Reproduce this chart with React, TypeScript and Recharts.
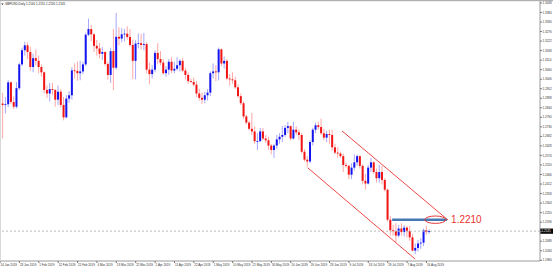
import React from 'react';
import { ComposedChart, Bar, XAxis, YAxis, ReferenceLine, ReferenceDot } from 'recharts';

// GBPUSD daily candles, 14 Jan 2019 - 19 Aug 2019
const dates = [
  '01-14','01-15','01-16','01-17','01-18','01-21','01-22','01-23','01-24','01-25','01-28','01-29','01-30','01-31',
  '02-01','02-04','02-05','02-06','02-07','02-08','02-11','02-12','02-13','02-14','02-15','02-18','02-19','02-20','02-21','02-22','02-25','02-26','02-27','02-28',
  '03-01','03-04','03-05','03-06','03-07','03-08','03-11','03-12','03-13','03-14','03-15','03-18','03-19','03-20','03-21','03-22','03-25','03-26','03-27','03-28','03-29',
  '04-01','04-02','04-03','04-04','04-05','04-08','04-09','04-10','04-11','04-12','04-15','04-16','04-17','04-18','04-19','04-22','04-23','04-24','04-25','04-26','04-29','04-30',
  '05-01','05-02','05-03','05-06','05-07','05-08','05-09','05-10','05-13','05-14','05-15','05-16','05-17','05-20','05-21','05-22','05-23','05-24','05-27','05-28','05-29','05-30','05-31',
  '06-03','06-04','06-05','06-06','06-07','06-10','06-11','06-12','06-13','06-14','06-17','06-18','06-19','06-20','06-21','06-24','06-25','06-26','06-27','06-28',
  '07-01','07-02','07-03','07-04','07-05','07-08','07-09','07-10','07-11','07-12','07-15','07-16','07-17','07-18','07-19','07-22','07-23','07-24','07-25','07-26','07-29','07-30','07-31',
  '08-01','08-02','08-05','08-06','08-07','08-08','08-09','08-12','08-13','08-14','08-15','08-16','08-19',
];

const opens = [
  1.2844,1.2868,1.2860,1.2864,1.2988,1.2877,1.2850,1.2955,1.3090,1.3170,1.3198,1.3160,1.3075,1.3125,
  1.3110,1.3075,1.3045,1.2945,1.2925,1.2950,1.2945,1.2890,1.2935,1.2860,1.2790,1.2896,1.2915,1.3056,1.3053,1.3040,1.3050,1.3090,1.3258,1.3290,
  1.3260,1.3195,1.3180,1.3150,1.3160,1.3092,1.3030,1.3165,1.3071,1.3246,1.3236,1.3260,1.3264,1.3245,1.3200,1.3110,1.3208,1.3210,1.3200,1.3205,1.3060,
  1.3035,1.3060,1.3155,1.3120,1.3100,1.3040,1.3060,1.3105,1.3055,1.3065,1.3085,1.3110,1.3055,1.3030,1.2995,1.2990,1.2975,1.2925,1.2900,1.2890,1.2915,1.2930,
  1.3040,1.3050,1.3045,1.3175,1.3095,1.3110,1.3010,1.3005,1.3000,1.2960,1.2910,1.2870,1.2795,1.2760,1.2725,1.2710,1.2655,1.2655,1.2710,1.2670,1.2660,1.2630,1.2605,
  1.2630,1.2665,1.2680,1.2690,1.2730,1.2740,1.2670,1.2720,1.2705,1.2690,1.2595,1.2550,1.2540,1.2650,1.2720,1.2745,1.2735,1.2700,1.2675,1.2695,
  1.2690,1.2620,1.2590,1.2585,1.2570,1.2520,1.2515,1.2465,1.2505,1.2535,1.2570,1.2515,1.2430,1.2415,1.2505,1.2535,1.2480,1.2445,1.2480,1.2435,1.2380,1.2210,1.2150,
  1.2145,1.2120,1.2160,1.2140,1.2165,1.2145,1.2110,1.2035,1.2050,1.2075,1.2080,1.2150,1.2140,
];

const highs = [
  1.2894,1.2929,1.2905,1.3000,1.2993,1.2908,1.2990,1.3100,1.3185,1.3218,1.3215,1.3190,1.3150,1.3175,
  1.3140,1.3090,1.3050,1.2970,1.2985,1.2985,1.2950,1.2970,1.2950,1.2905,1.2915,1.2938,1.3074,1.3096,1.3105,1.3110,1.3105,1.3269,1.3350,1.3313,
  1.3265,1.3228,1.3212,1.3188,1.3164,1.3105,1.3184,1.3290,1.3381,1.3300,1.3295,1.3290,1.3306,1.3290,1.3230,1.3227,1.3265,1.3263,1.3268,1.3215,1.3100,
  1.3085,1.3170,1.3210,1.3165,1.3120,1.3080,1.3120,1.3130,1.3105,1.3130,1.3120,1.3125,1.3070,1.3045,1.3010,1.3015,1.2995,1.2950,1.2930,1.2935,1.2950,1.3050,
  1.3095,1.3085,1.3185,1.3180,1.3135,1.3120,1.3035,1.3045,1.3020,1.2975,1.2925,1.2880,1.2805,1.2770,1.2815,1.2740,1.2700,1.2730,1.2730,1.2690,1.2680,1.2640,1.2640,
  1.2690,1.2700,1.2740,1.2745,1.2765,1.2745,1.2765,1.2740,1.2720,1.2700,1.2610,1.2570,1.2660,1.2730,1.2760,1.2765,1.2783,1.2725,1.2715,1.2720,
  1.2720,1.2640,1.2620,1.2595,1.2585,1.2535,1.2520,1.2530,1.2580,1.2580,1.2575,1.2525,1.2470,1.2520,1.2560,1.2540,1.2500,1.2520,1.2515,1.2445,1.2385,1.2230,1.2180,
  1.2190,1.2180,1.2190,1.2180,1.2175,1.2175,1.2130,1.2075,1.2095,1.2105,1.2160,1.2175,1.2155,
];

const lows = [
  1.2801,1.2670,1.2812,1.2848,1.2865,1.2838,1.2840,1.2945,1.3080,1.3140,1.3120,1.3055,1.3045,1.3085,
  1.3040,1.3020,1.2925,1.2900,1.2880,1.2915,1.2850,1.2860,1.2845,1.2773,1.2784,1.2872,1.2890,1.3010,1.2997,1.3000,1.3035,1.3080,1.3250,1.3220,
  1.3160,1.3139,1.3123,1.3115,1.3080,1.3003,1.2985,1.2944,1.3060,1.3197,1.3215,1.3220,1.3230,1.3190,1.3005,1.3005,1.3181,1.3175,1.3170,1.3040,1.2977,
  1.3010,1.3045,1.3090,1.3085,1.3030,1.3020,1.3030,1.3040,1.3040,1.3055,1.3050,1.3045,1.3005,1.2980,1.2985,1.2965,1.2905,1.2885,1.2866,1.2870,1.2885,1.2910,
  1.3010,1.2995,1.3000,1.3080,1.3065,1.3000,1.2970,1.2980,1.2950,1.2900,1.2860,1.2780,1.2750,1.2715,1.2690,1.2640,1.2605,1.2650,1.2660,1.2645,1.2605,1.2580,1.2560,
  1.2610,1.2640,1.2650,1.2680,1.2700,1.2660,1.2665,1.2690,1.2660,1.2585,1.2540,1.2506,1.2530,1.2630,1.2700,1.2720,1.2690,1.2660,1.2650,1.2640,
  1.2600,1.2580,1.2560,1.2560,1.2480,1.2505,1.2440,1.2440,1.2490,1.2515,1.2500,1.2410,1.2381,1.2410,1.2480,1.2470,1.2420,1.2420,1.2410,1.2370,1.2200,1.2120,1.2120,
  1.2080,1.2110,1.2120,1.2115,1.2110,1.2090,1.2030,1.2015,1.2030,1.2045,1.2060,1.2125,1.2130,
];

const closes = [
  1.2868,1.2860,1.2864,1.2988,1.2877,1.2850,1.2955,1.3090,1.3170,1.3198,1.3160,1.3075,1.3125,1.3110,
  1.3075,1.3045,1.2945,1.2925,1.2950,1.2945,1.2890,1.2935,1.2860,1.2790,1.2896,1.2915,1.3056,1.3053,1.3040,1.3050,1.3090,1.3258,1.3290,1.3260,
  1.3195,1.3180,1.3150,1.3160,1.3092,1.3030,1.3165,1.3071,1.3246,1.3236,1.3260,1.3264,1.3245,1.3200,1.3110,1.3208,1.3210,1.3200,1.3205,1.3060,1.3035,
  1.3060,1.3155,1.3120,1.3100,1.3040,1.3060,1.3105,1.3055,1.3065,1.3085,1.3110,1.3055,1.3030,1.2995,1.2990,1.2975,1.2925,1.2900,1.2890,1.2915,1.2930,1.3040,
  1.3050,1.3045,1.3175,1.3095,1.3110,1.3010,1.3005,1.3000,1.2960,1.2910,1.2870,1.2795,1.2760,1.2725,1.2710,1.2655,1.2655,1.2710,1.2670,1.2660,1.2630,1.2605,1.2630,
  1.2665,1.2680,1.2690,1.2730,1.2740,1.2670,1.2720,1.2705,1.2690,1.2595,1.2550,1.2540,1.2650,1.2720,1.2745,1.2735,1.2700,1.2675,1.2695,1.2690,
  1.2620,1.2590,1.2585,1.2570,1.2520,1.2515,1.2465,1.2505,1.2535,1.2570,1.2515,1.2430,1.2415,1.2505,1.2535,1.2480,1.2445,1.2480,1.2435,1.2380,1.2210,1.2150,1.2145,
  1.2120,1.2160,1.2140,1.2165,1.2145,1.2110,1.2035,1.2050,1.2075,1.2080,1.2150,1.2140,1.2145,
];

const tickIndex = [0, 7, 14, 21, 28, 35, 42, 49, 56, 63, 70, 77, 84, 91, 98, 105, 112, 119, 126, 133, 140, 147, 154];
const tickLabels = [
  '14 Jan 2019', '23 Jan 2019', '1 Feb 2019', '12 Feb 2019', '21 Feb 2019', '4 Mar 2019', '13 Mar 2019', '22 Mar 2019',
  '2 Apr 2019', '11 Apr 2019', '22 Apr 2019', '1 May 2019', '10 May 2019', '21 May 2019', '30 May 2019', '10 Jun 2019',
  '19 Jun 2019', '28 Jun 2019', '9 Jul 2019', '18 Jul 2019', '29 Jul 2019', '7 Aug 2019', '16 Aug 2019',
];

const priceTicks = [
  1.1980, 1.2034, 1.2088, 1.2142, 1.2196, 1.2250, 1.2304, 1.2358, 1.2412, 1.2466, 1.2520, 1.2574, 1.2628, 1.2682,
  1.2736, 1.2790, 1.2844, 1.2898, 1.2952, 1.3006, 1.3060, 1.3114, 1.3168, 1.3222, 1.3276, 1.3330, 1.3384, 1.3438,
];

// annotations (index, price)
const channelLower = [{ x: 111.2, y: 1.2503 }, { x: 149.9, y: 1.1987 }];
const channelUpper = [{ x: 123.5, y: 1.2713 }, { x: 161.8, y: 1.2208 }];
const levelValue = 1.2210;
const levelStart = 141.6;
const levelEnd = 161.4;
const ellipseAt = 157.2;
const levelLabelAt = 162.9;

const data = dates.map((d, i) => ({
  i,
  date: d,
  open: opens[i],
  high: highs[i],
  low: lows[i],
  close: closes[i],
  range: [lows[i], highs[i]],
}));

const last = data.length - 1;
const bid = closes[last];

const renderCandle = (props: any) => {
  const { x, y, width, height, payload } = props;
  if (x == null || y == null) return <g />;
  const { open, close, high, low } = payload;
  const cx = x + width / 2;
  const span = high - low || 1e-9;
  const pix = (v: number) => y + ((high - v) / span) * height;
  const bull = close >= open;
  const top = pix(Math.max(open, close));
  const bot = pix(Math.min(open, close));
  return (
    <g>
      <line x1={cx} x2={cx} y1={y} y2={y + height} stroke={bull ? '#a6a6ff' : '#ffa6a6'} strokeWidth={1} />
      <rect x={cx - 1} y={top} width={2} height={Math.max(bot - top, 0.8)} fill={bull ? '#1414ee' : '#f01414'} />
    </g>
  );
};

const XTick = (p: any) => {
  const k = tickIndex.indexOf(p.payload.value);
  return (
    <text x={p.x + 0.5} y={p.y + 2.6} fontSize={3} fill="#333" textAnchor="start" fontFamily="Liberation Sans, Arial, sans-serif">
      {k >= 0 ? tickLabels[k] : ''}
    </text>
  );
};

const YTick = (p: any) => (
  <text x={p.x} y={p.y + 1.1} fontSize={3} fill="#333" textAnchor="start" fontFamily="Liberation Sans, Arial, sans-serif">
    {Number(p.payload.value).toFixed(4)}
  </text>
);

const BidLabel = (p: any) => {
  const vb = p.viewBox || {};
  const x0 = (vb.x || 0) + (vb.width || 0);
  const y0 = vb.y || 0;
  return (
    <g>
      <rect x={x0} y={y0 - 2.6} width={13} height={5.2} fill="#000" />
      <text x={x0 + 1.5} y={y0 + 1.1} fontSize={3} fill="#fff" fontFamily="Liberation Sans, Arial, sans-serif">
        {bid.toFixed(4)}
      </text>
    </g>
  );
};

export default function App() {
  return (
    <div style={{ position: 'absolute', left: 0, top: 0, width: 553, height: 267, background: '#fff', overflow: 'hidden' }}>
      <ComposedChart width={553} height={267} data={data} margin={{ top: 1, right: 0, bottom: 0, left: 0 }}>
        <XAxis
          dataKey="i"
          type="number"
          domain={[0, 195]}
          allowDataOverflow
          ticks={tickIndex}
          interval={0}
          height={6}
          tickSize={2}
          tickMargin={0}
          axisLine={{ stroke: '#9a9a9a' }}
          tickLine={{ stroke: '#777' }}
          tick={<XTick />}
        />
        <YAxis
          orientation="right"
          type="number"
          domain={[1.1976, 1.3449]}
          allowDataOverflow
          ticks={priceTicks}
          interval={0}
          width={13}
          tickSize={2}
          tickMargin={0.5}
          axisLine={{ stroke: '#9a9a9a' }}
          tickLine={{ stroke: '#777' }}
          tick={<YTick />}
        />
        <ReferenceLine y={bid} stroke="#bdbdbd" strokeDasharray="2 2" strokeWidth={1} label={<BidLabel />} />
        <Bar dataKey="range" barSize={3} shape={renderCandle} isAnimationActive={false} />
        <ReferenceLine segment={channelLower} stroke="#f04848" strokeWidth={1} />
        <ReferenceLine segment={channelUpper} stroke="#f04848" strokeWidth={1} />
        <ReferenceLine
          segment={[{ x: levelStart, y: levelValue }, { x: levelEnd, y: levelValue }]}
          stroke="#4479b4"
          strokeWidth={2.5}
        />
        <ReferenceDot
          x={ellipseAt}
          y={levelValue}
          r={1}
          shape={(p: any) => (
            <ellipse cx={p.cx} cy={p.cy} rx={10.5} ry={3.7} fill="none" stroke="#e23a3a" strokeWidth={1} />
          )}
        />
        <ReferenceDot
          x={levelLabelAt}
          y={levelValue}
          r={1}
          shape={(p: any) => (
            <text x={p.cx} y={p.cy + 3.6} fontSize={10} fill="#e8322f" fontFamily="Liberation Sans, Arial, sans-serif">
              {levelValue.toFixed(4)}
            </text>
          )}
        />
      </ComposedChart>
      <svg width={553} height={267} style={{ position: 'absolute', left: 0, top: 0, pointerEvents: 'none' }}>
        <rect x={0} y={0} width={553} height={1.2} fill="#b0b0b0" />
        <line x1={0.5} y1={1} x2={0.5} y2={261} stroke="#d8d8d8" strokeWidth={1} />
        <path d="M1.2 3.4 L3.6 3.4 L2.4 5 Z" fill="#222" />
        <text x={5} y={5.2} fontSize={3} fill="#222" fontFamily="Liberation Sans, Arial, sans-serif">
          {`GBPUSD,Daily  ${opens[last].toFixed(4)} ${highs[last].toFixed(4)} ${lows[last].toFixed(4)} ${closes[last].toFixed(4)}`}
        </text>
      </svg>
    </div>
  );
}
